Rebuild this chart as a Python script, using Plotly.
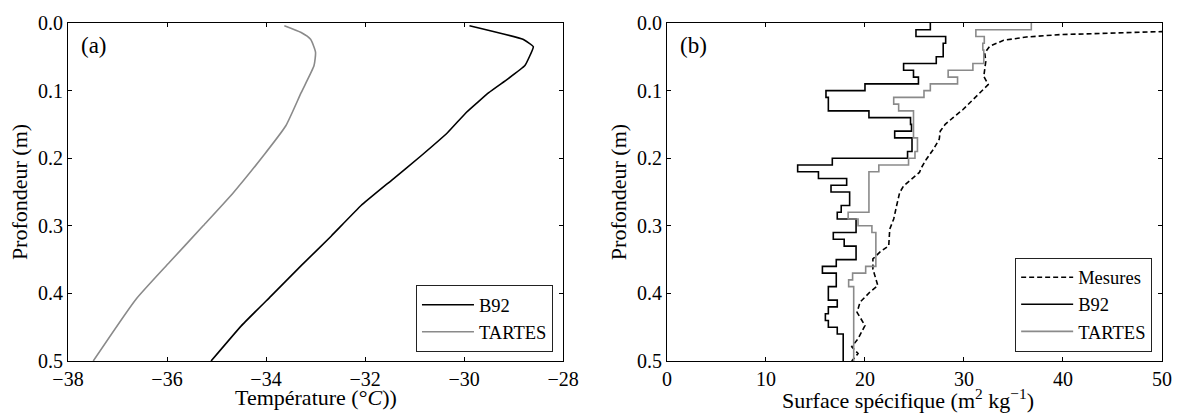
import plotly.graph_objects as go

# ---------------- Panel (a): temperature profiles ----------------
b92_temp = [-29.89, -28.81, -28.60, -28.77, -29.12, -29.50, -29.95, -30.33, -30.86,
            -31.47, -32.08, -32.68, -33.29, -33.90, -34.50, -35.11]
b92_temp_depth = [0.004, 0.024, 0.035, 0.063, 0.083, 0.103, 0.132, 0.162, 0.196,
                  0.233, 0.270, 0.315, 0.359, 0.404, 0.448, 0.500]

tartes_temp = [-33.63, -33.29, -33.10, -33.00, -33.03, -33.29, -33.60, -34.05, -34.66,
               -35.27, -35.95, -36.63, -37.49]
tartes_temp_depth = [0.004, 0.014, 0.024, 0.043, 0.063, 0.103, 0.152, 0.196, 0.251,
                     0.300, 0.354, 0.409, 0.500]

# ---------------- Panel (b): specific surface area ----------------
mes_ssa = [55.0, 50.0, 44.75, 39.7, 36.3, 34.0, 32.6, 32.1, 32.2, 32.0, 32.45, 31.6,
           30.9, 29.9, 28.9, 28.1, 27.6, 27.5, 26.9, 26.2, 25.7, 25.5, 23.9, 23.5,
           23.2, 22.9, 22.5, 22.4, 21.5, 20.8, 20.8, 21.3, 20.5, 19.5, 19.2, 20.0,
           19.3, 18.66, 19.3, 18.66]
mes_depth = [0.0105, 0.0124, 0.0148, 0.0172, 0.0207, 0.0256, 0.0344, 0.0443, 0.057,
             0.079, 0.091, 0.1033, 0.113, 0.128, 0.14, 0.15, 0.16, 0.172, 0.187,
             0.2015, 0.214, 0.221, 0.241, 0.251, 0.27, 0.29, 0.305, 0.3295, 0.339,
             0.349, 0.364, 0.3885, 0.398, 0.413, 0.428, 0.4475, 0.467, 0.479, 0.489,
             0.5]

b92_layer_top = [0.00, 0.01, 0.02, 0.03, 0.05, 0.06, 0.07, 0.08, 0.09, 0.10, 0.11,
                 0.13, 0.14, 0.15, 0.16, 0.17, 0.19, 0.20, 0.21, 0.22, 0.23, 0.24,
                 0.25, 0.27, 0.28, 0.29, 0.31, 0.32, 0.33, 0.35, 0.36, 0.37, 0.39,
                 0.41, 0.42, 0.43, 0.44, 0.45, 0.46]
b92_ssa = [26.6, 25.15, 28.15, 27.9, 27.2, 23.9, 24.9, 25.4, 20.0, 16.06, 16.3,
           20.4, 24.6, 24.7, 23.0, 24.75, 24.3, 16.7, 13.2, 15.3, 18.15, 16.57,
           18.45, 17.6, 17.2, 19.1, 16.8, 17.9, 19.1, 17.1, 15.7, 17.1, 16.3,
           17.2, 16.3, 16.0, 16.3, 17.2, 17.8]

tartes_layer_top = [0.00, 0.01, 0.02, 0.03, 0.04, 0.06, 0.07, 0.08, 0.09, 0.10, 0.11,
                    0.12, 0.13, 0.17, 0.19, 0.20, 0.21, 0.22, 0.28, 0.29, 0.30, 0.31,
                    0.36, 0.37, 0.38, 0.39]
tartes_ssa = [36.8, 31.2, 32.05, 31.9, 32.0, 30.9, 28.4, 29.35, 26.6, 25.96, 22.9,
              23.4, 24.9, 25.3, 25.05, 24.4, 21.4, 20.4, 18.3, 19.3, 20.7, 21.1,
              20.07, 18.75, 18.35, 18.86]
bottom_depth = 0.5

depth_ticks = [0.0, 0.1, 0.2, 0.3, 0.4, 0.5]

FONT = "Liberation Serif"
GRAY = "#8a8a8a"

fig = go.Figure()

fig.add_trace(go.Scatter(x=b92_temp, y=b92_temp_depth, mode="lines", name="B92",
                         line=dict(color="black", width=1.6, shape="spline", smoothing=0.3),
                         xaxis="x", yaxis="y", legend="legend"))
fig.add_trace(go.Scatter(x=tartes_temp, y=tartes_temp_depth, mode="lines", name="TARTES",
                         line=dict(color=GRAY, width=1.6, shape="spline", smoothing=0.5),
                         xaxis="x", yaxis="y", legend="legend"))

fig.add_trace(go.Scatter(x=mes_ssa, y=mes_depth, mode="lines", name="Mesures",
                         line=dict(color="black", width=1.6, dash="5px,3px"),
                         xaxis="x2", yaxis="y2", legend="legend2"))
fig.add_trace(go.Scatter(x=b92_ssa + [b92_ssa[-1]], y=b92_layer_top + [bottom_depth],
                         mode="lines", name="B92", line=dict(color="black", width=1.6, shape="vh"),
                         xaxis="x2", yaxis="y2", legend="legend2"))
fig.add_trace(go.Scatter(x=tartes_ssa + [tartes_ssa[-1]], y=tartes_layer_top + [bottom_depth],
                         mode="lines", name="TARTES", line=dict(color=GRAY, width=1.6, shape="vh"),
                         xaxis="x2", yaxis="y2", legend="legend2"))

axis_common = dict(showline=True, linecolor="black", linewidth=1, mirror="ticks",
                   ticks="inside", ticklen=4, tickcolor="black", showgrid=False,
                   zeroline=False, automargin=False,
                   tickfont=dict(family=FONT, size=20, color="black"))

title_font = dict(family=FONT, size=22, color="black")

fig.update_layout(
    template="none",
    width=1177, height=414, autosize=False,
    margin=dict(l=68, r=15, t=23, b=53, autoexpand=False),
    paper_bgcolor="white", plot_bgcolor="white",
    font=dict(family=FONT, color="black"),
    xaxis=dict(domain=[0, 0.4525], range=[-38, -28], dtick=2, tick0=-38,
               **axis_common),
    yaxis=dict(domain=[0, 1], range=[0.5, 0.0], tickvals=depth_ticks, tickformat=".1f",
               title=dict(text="Profondeur (m)", font=title_font, standoff=4),
               **axis_common),
    xaxis2=dict(domain=[0.5475, 1], range=[0, 50], dtick=10, tick0=0, anchor="y2",
                **axis_common),
    yaxis2=dict(domain=[0, 1], range=[0.5, 0.0], tickvals=depth_ticks, tickformat=".1f",
                anchor="x2",
                title=dict(text="Profondeur (m)", font=title_font, standoff=4),
                **axis_common),
    legend=dict(x=0.4433, y=0.026, xanchor="right", yanchor="bottom",
                bordercolor="#222222", borderwidth=1, bgcolor="white",
                font=dict(family=FONT, size=18.5, color="black"), itemwidth=52,
                tracegroupgap=0),
    legend2=dict(x=0.991, y=0.0275, xanchor="right", yanchor="bottom",
                 bordercolor="#222222", borderwidth=1, bgcolor="white",
                 font=dict(family=FONT, size=18.5, color="black"), itemwidth=52,
                 tracegroupgap=0),
    showlegend=True,
    annotations=[
        dict(text="(a)", xref="x domain", yref="y domain", x=0.022, y=0.932,
             xanchor="left", yanchor="middle", showarrow=False,
             font=dict(family=FONT, size=23, color="black")),
        dict(text="(b)", xref="x2 domain", yref="y2 domain", x=0.022, y=0.932,
             xanchor="left", yanchor="middle", showarrow=False,
             font=dict(family=FONT, size=23, color="black")),
        dict(text="Température (°<i>C</i>))", xref="x domain", yref="paper",
             x=0.5, y=-(397 - 361) / 338, xanchor="center", yanchor="middle",
             showarrow=False, font=title_font),
        dict(text="Surface spécifique (m<sup>2</sup> kg<sup>−1</sup>)", xref="x2 domain",
             yref="paper", x=0.487, y=-(399 - 361) / 338, xanchor="center",
             yanchor="middle", showarrow=False, font=title_font),
    ],
)

fig.write_html("out.html",
               config={"responsive": False, "displayModeBar": False},
               post_script="document.body.style.margin='0';document.body.style.padding='0';"
                           "document.body.style.overflow='hidden';")
